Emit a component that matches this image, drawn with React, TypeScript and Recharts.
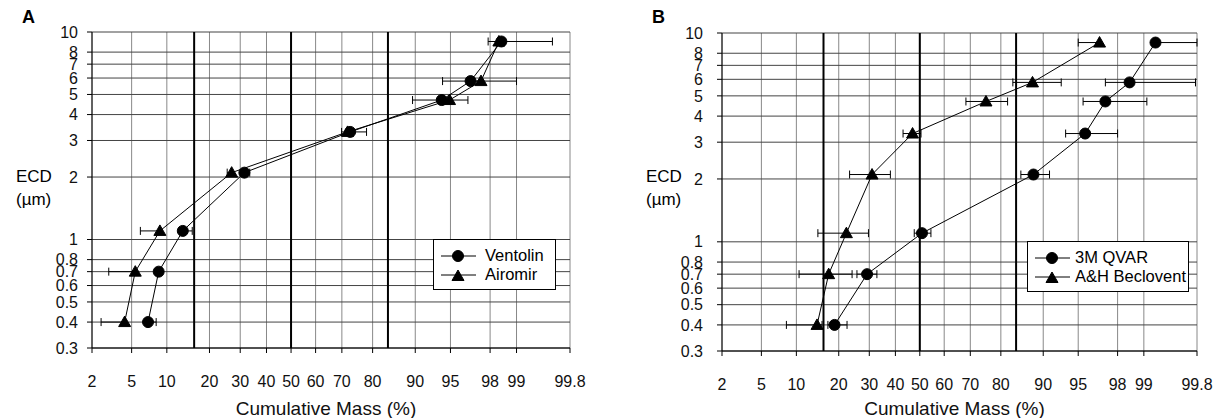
import React from "react";
import {
  ScatterChart,
  Scatter,
  XAxis,
  YAxis,
  CartesianGrid,
  ReferenceLine,
  ErrorBar,
  Label,
} from "recharts";

const FONT = "'Liberation Sans', Arial, Helvetica, sans-serif";

// ECD stage cut-offs (um), shared by all series
const ecd = [9.0, 5.8, 4.7, 3.3, 2.1, 1.1, 0.7, 0.4];

// Panel A
const ventolinMass = [98.5, 96.8, 94.0, 72.9, 31.5, 13.2, 8.6, 7.0];
const ventolinHigh = [99.65, 99.0, 96.6, 78.2, 33.5, 15.4, 9.2, 8.2];
const airomirMass = [98.4, 97.5, 94.9, 72.0, 27.0, 8.8, 5.4, 4.3];
const airomirLow = [97.9, 94.1, 89.5, 69.9, 25.5, 6.0, 3.0, 2.5];

// Panel B
const qvarMass = [99.28, 98.53, 97.3, 95.7, 88.1, 50.9, 29.2, 18.8];
const qvarLow = [99.28, 97.3, 95.5, 93.5, 85.3, 47.7, 25.7, 17.0];
const qvarHigh = [99.8, 99.79, 99.08, 98.0, 91.1, 54.6, 32.8, 22.5];
const beclMass = [96.9, 87.9, 75.4, 47.0, 31.0, 22.3, 17.2, 14.3];
const beclLow = [95.0, 83.3, 68.4, 43.1, 23.3, 14.5, 10.5, 8.3];
const beclHigh = [96.9, 92.9, 81.9, 50.5, 38.0, 29.7, 24.1, 15.5];

const xTicks = [2, 5, 10, 20, 30, 40, 50, 60, 70, 80, 90, 95, 98, 99, 99.8];
const yTicks = [0.3, 0.4, 0.5, 0.6, 0.7, 0.8, 1, 2, 3, 4, 5, 6, 7, 8, 10];
const sigmaLines = [15.87, 50, 84.13];

// inverse normal CDF (Acklam), used for the probability axis
function probit(pct: number): number {
  const p = pct / 100;
  const a = [-39.69683028665376, 220.9460984245205, -275.9285104469687, 138.357751867269, -30.66479806614716, 2.506628277459239];
  const b = [-54.47609879822406, 161.5858368580409, -155.6989798598866, 66.80131188771972, -13.28068155288572];
  const c = [-0.007784894002430293, -0.3223964580411365, -2.400758277161838, -2.549732539343734, 4.374664141464968, 2.938163982698783];
  const d = [0.007784695709041462, 0.3224671290700398, 2.445134137142996, 3.754408661907416];
  const pl = 0.02425;
  if (p < pl) {
    const q = Math.sqrt(-2 * Math.log(p));
    return (((((c[0] * q + c[1]) * q + c[2]) * q + c[3]) * q + c[4]) * q + c[5]) / ((((d[0] * q + d[1]) * q + d[2]) * q + d[3]) * q + 1);
  }
  if (p > 1 - pl) {
    const q = Math.sqrt(-2 * Math.log(1 - p));
    return -(((((c[0] * q + c[1]) * q + c[2]) * q + c[3]) * q + c[4]) * q + c[5]) / ((((d[0] * q + d[1]) * q + d[2]) * q + d[3]) * q + 1);
  }
  const q = p - 0.5;
  const r = q * q;
  return ((((((a[0] * r + a[1]) * r + a[2]) * r + a[3]) * r + a[4]) * r + a[5]) * q) / (((((b[0] * r + b[1]) * r + b[2]) * r + b[3]) * r + b[4]) * r + 1);
}

const build = (mass: number[], low: number[], high: number[]) =>
  ecd.map((y, i) => {
    const x = probit(mass[i]);
    return { x, y, err: [x - probit(low[i]), probit(high[i]) - x] };
  });

const circleShape = (props: any) => (
  <circle cx={props.cx} cy={props.cy} r={5.5} fill="#000" stroke="#000" />
);
const triangleShape = (props: any) => {
  const { cx, cy } = props;
  return (
    <polygon
      points={`${cx},${cy - 6} ${cx - 6},${cy + 4.5} ${cx + 6},${cy + 4.5}`}
      fill="#000"
      stroke="#000"
    />
  );
};

const xLabel = (v: number) => {
  const t = xTicks.find((k) => Math.abs(probit(k) - v) < 1e-6);
  return t === undefined ? "" : String(t);
};

type Series = { name: string; data: any[]; shape: "circle" | "triangle" };

const LegendBox = ({ items, left, top, width, gap }: { items: Series[]; left: number; top: number; width: number; gap: number }) => (
  <div
    style={{
      position: "absolute",
      left,
      top,
      width,
      height: 51,
      border: "1px solid #000",
      background: "#fff",
      fontFamily: FONT,
      fontSize: 16.5,
      boxSizing: "border-box",
      padding: "6px 0 0 6px",
    }}
  >
    {items.map((s) => (
      <div key={s.name} style={{ display: "flex", alignItems: "center", height: 19, whiteSpace: "nowrap" }}>
        <svg width={37} height={14} style={{ flexShrink: 0 }}>
          <line x1={1} y1={7} x2={36} y2={7} stroke="#000" />
          {s.shape === "circle" ? circleShape({ cx: 18, cy: 7 }) : triangleShape({ cx: 18, cy: 8 })}
        </svg>
        <span style={{ marginLeft: gap }}>{s.name}</span>
      </div>
    ))}
  </div>
);

type PanelProps = {
  letter: string;
  left: number;
  width: number;
  top: number;
  right: number;
  xHeight: number;
  yMargin: number;
  series: Series[];
  legend: { left: number; top: number; width: number; gap: number };
};

const Panel = ({ letter, left, width, top, right, xHeight, yMargin, series, legend }: PanelProps) => (
  <div style={{ position: "absolute", left, top: 0, width, height: 418 }}>
    <div style={{ position: "absolute", left: 22, top: 7, fontFamily: FONT, fontWeight: "bold", fontSize: 18 }}>
      {letter}
    </div>
    <div style={{ position: "absolute", left: 16, top: 165, fontFamily: FONT, fontSize: 17, lineHeight: "23px" }}>
      ECD
      <br />
      (µm)
    </div>
    <ScatterChart width={width} height={418} margin={{ top, right, bottom: 0, left: 0 }}>
      <CartesianGrid horizontal={false} stroke="#888" strokeWidth={1} />
      <CartesianGrid vertical={false} stroke="#444" strokeWidth={1} />
      <XAxis
        type="number"
        dataKey="x"
        domain={[probit(2), probit(99.8)]}
        ticks={xTicks.map(probit)}
        tickFormatter={xLabel}
        interval={0}
        allowDataOverflow
        height={xHeight}
        stroke="#000"
        tickSize={5}
        tickMargin={23}
        tick={{ fill: "#111", fontSize: 16, fontFamily: FONT }}
      >
        <Label
          value="Cumulative Mass (%)"
          position="insideBottom"
          offset={3}
          dx={-5}
          style={{ fill: "#111", fontSize: 19, fontFamily: FONT }}
        />
      </XAxis>
      <YAxis
        type="number"
        dataKey="y"
        scale="log"
        domain={[0.3, 10]}
        ticks={yTicks}
        interval={0}
        allowDataOverflow
        width={92}
        stroke="#000"
        tickSize={5}
        tickMargin={yMargin}
        tick={{ fill: "#111", fontSize: 16, fontFamily: FONT }}
      />
      {sigmaLines.map((p) => (
        <ReferenceLine key={p} x={probit(p)} stroke="#000" strokeWidth={2} />
      ))}
      {series.map((s) => (
        <Scatter
          key={s.name}
          name={s.name}
          data={s.data}
          line={{ stroke: "#000", strokeWidth: 1 }}
          shape={s.shape === "circle" ? circleShape : triangleShape}
          isAnimationActive={false}
        >
          <ErrorBar dataKey="err" direction="x" width={4} stroke="#000" strokeWidth={1} isAnimationActive={false} />
        </Scatter>
      ))}
    </ScatterChart>
    <LegendBox items={series} {...legend} />
  </div>
);

const panelA: Series[] = [
  { name: "Ventolin", data: build(ventolinMass, ventolinMass, ventolinHigh), shape: "circle" },
  { name: "Airomir", data: build(airomirMass, airomirLow, airomirMass), shape: "triangle" },
];

const panelB: Series[] = [
  { name: "3M QVAR", data: build(qvarMass, qvarLow, qvarHigh), shape: "circle" },
  { name: "A&H Beclovent", data: build(beclMass, beclLow, beclHigh), shape: "triangle" },
];

export default function App() {
  return (
    <div style={{ position: "absolute", left: 0, top: 0, width: 1222, height: 418, background: "#fff" }}>
      <Panel
        letter="A"
        left={0}
        width={600}
        top={32}
        right={30}
        xHeight={70}
        yMargin={9}
        series={panelA}
        legend={{ left: 433, top: 239, width: 123, gap: 8 }}
      />
      <Panel
        letter="B"
        left={630}
        width={592}
        top={33}
        right={25}
        xHeight={67}
        yMargin={14}
        series={panelB}
        legend={{ left: 397, top: 241, width: 162, gap: 4 }}
      />
    </div>
  );
}
